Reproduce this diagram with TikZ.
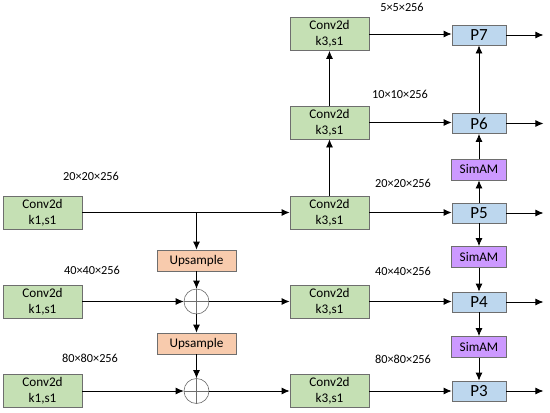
\documentclass[tikz,border=0pt]{standalone}
\usepackage{fontspec}
\setmainfont{Carlito}
\usetikzlibrary{arrows.meta}

\definecolor{convgreen}{RGB}{197,224,180}
\definecolor{upsorange}{RGB}{248,203,173}
\definecolor{simpurple}{RGB}{204,153,255}
\definecolor{pblue}{RGB}{189,215,238}
\definecolor{edgegray}{RGB}{110,110,110}

\tikzset{
	box/.style={draw=edgegray, line width=0.8pt, inner sep=0pt, align=center,
		font=\fontsize{13.2}{16}\selectfont},
	conv/.style={box, fill=convgreen, minimum width=79pt, minimum height=33pt},
	upsbox/.style={box, fill=upsorange, minimum width=79pt, minimum height=21pt},
	simam/.style={box, fill=simpurple, minimum width=55pt, minimum height=21pt},
	pbox/.style={box, fill=pblue, minimum width=54pt, minimum height=20pt,
		font=\fontsize{17}{19}\selectfont},
	addop/.style={circle, draw=edgegray, line width=0.6pt, minimum size=25pt, inner sep=0pt},
	arr/.style={-{Latex[length=8pt,width=7pt]}, line width=0.8pt},
	sizelbl/.style={font=\fontsize{12.3}{14}\selectfont}
}

\begin{document}
\begin{tikzpicture}[x=1pt, y=-1pt]
	\useasboundingbox (0,0) rectangle (550,413);

	% Left: lateral 1x1 convolutions
	\node[conv] (L5) at (42.5,212.5) {Conv2d\\k1,s1};
	\node[conv] (L4) at (42.5,301.5) {Conv2d\\k1,s1};
	\node[conv] (L3) at (42.5,391)   {Conv2d\\k1,s1};

	\node[sizelbl] (s5l) at (91,176) {20×20×256};
	\node[sizelbl] (s4l) at (92,270) {40×40×256};
	\node[sizelbl] (s3l) at (90,358) {80×80×256};

	% Top-down path
	\node[upsbox] (up1) at (196.5,260.5) {Upsample};
	\node[upsbox] (up2) at (196.5,343.5) {Upsample};
	\node[addop] (add1) at (196.5,301.5) {};
	\node[addop] (add2) at (196.5,391) {};
	\foreach \a in {add1,add2} {
		\draw[edgegray, line width=0.5pt] (\a.north) -- (\a.south);
		\draw[edgegray, line width=0.5pt] (\a.west) -- (\a.east);
	}

	% Middle: 3x3 convolutions
	\node[conv] (M7) at (329.5,34)    {Conv2d\\k3,s1};
	\node[conv] (M6) at (329.5,122.5) {Conv2d\\k3,s1};
	\node[conv] (M5) at (329.5,212.5) {Conv2d\\k3,s1};
	\node[conv] (M4) at (329.5,301.5) {Conv2d\\k3,s1};
	\node[conv] (M3) at (329.5,391)   {Conv2d\\k3,s1};

	\node[sizelbl] (s7r) at (402,7)   {5×5×256};
	\node[sizelbl] (s6r) at (400,94)  {10×10×256};
	\node[sizelbl] (s5r) at (403,183) {20×20×256};
	\node[sizelbl] (s4r) at (403,271) {40×40×256};
	\node[sizelbl] (s3r) at (403,359) {80×80×256};

	% Right: outputs with SimAM
	\node[pbox] (P7) at (479,35)    {P7};
	\node[pbox] (P6) at (479,123.5) {P6};
	\node[pbox] (P5) at (479,213)   {P5};
	\node[pbox] (P4) at (479,302)   {P4};
	\node[pbox] (P3) at (479,391)   {P3};
	\node[simam] (sa6) at (479,169.5) {SimAM};
	\node[simam] (sa4) at (479,257)   {SimAM};
	\node[simam] (sa3) at (479,347)   {SimAM};

	% Connections
	\coordinate (b5) at (L5 -| up1);
	\draw[arr] (L5) -- (M5);
	\draw[arr] (b5) -- (up1);
	\draw[arr] (up1) -- (add1);
	\draw[arr] (L4) -- (add1.west);
	\draw[arr] (add1) -- (M4);
	\draw[arr] (add1) -- (up2);
	\draw[arr] (up2) -- (add2);
	\draw[arr] (L3) -- (add2.west);
	\draw[arr] (add2) -- (M3);

	\draw[arr] (M5) -- (M6);
	\draw[arr] (M6) -- (M7);
	\foreach \i in {3,...,7} {
		\draw[arr] (M\i.east) -- (P\i.west |- M\i.east);
		\coordinate (o\i) at ([xshift=37pt]P\i.east);
		\draw[arr] (P\i.east) -- (o\i);
	}

	\draw[arr] (P5) -- (sa6);
	\draw[arr] (sa6) -- (P6);
	\draw[arr] (P6) -- (P7);
	\draw[arr] (P5) -- (sa4);
	\draw[arr] (sa4) -- (P4);
	\draw[arr] (P4) -- (sa3);
	\draw[arr] (sa3) -- (P3);
\end{tikzpicture}
\end{document}
